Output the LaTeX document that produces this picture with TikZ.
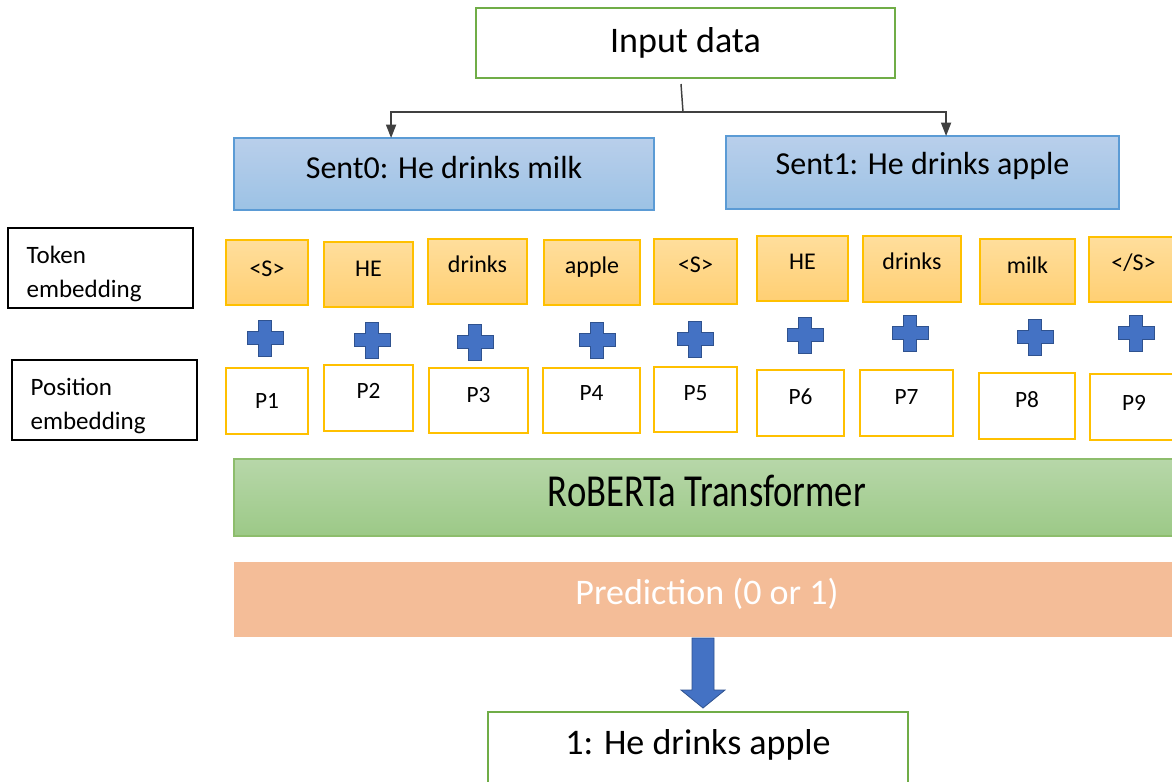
\documentclass[tikz,border=0pt]{standalone}
\usepackage{fontspec}
\setmainfont{Carlito}
\usetikzlibrary{arrows.meta,calc}
\definecolor{grn}{HTML}{70AD47}
\definecolor{bluebd}{HTML}{5B9BD5}
\definecolor{bluetop}{HTML}{B9CFEB}
\definecolor{bluebot}{HTML}{9CC2E5}
\definecolor{orbd}{HTML}{FFC000}
\definecolor{ortop}{HTML}{FFDE9C}
\definecolor{orbot}{HTML}{FFCF73}
\definecolor{gtop}{HTML}{B7D7A9}
\definecolor{gbot}{HTML}{9CC987}
\definecolor{peach}{HTML}{F4BD98}
\definecolor{plusfill}{HTML}{4472C4}
\definecolor{plusbd}{HTML}{2F528F}
\definecolor{conn}{HTML}{404040}
\newcommand\boxat[7]{\node[#6, minimum width={(#4-#2)*0.75pt}, minimum height={(#5-#3)*0.75pt}] (#1) at ({(#2+#4)/2},{(#3+#5)/2}) {#7};}
\newcommand\rs[2]{\raisebox{#1pt}[\height][\depth]{#2}}
\newcommand\plusat[2]{\fill[plusfill, draw=plusbd, line width=0.6pt] (#1-6.5,#2-18) -- (#1+6.5,#2-18) -- (#1+6.5,#2-6.5) -- (#1+18,#2-6.5) -- (#1+18,#2+6.5) -- (#1+6.5,#2+6.5) -- (#1+6.5,#2+18) -- (#1-6.5,#2+18) -- (#1-6.5,#2+6.5) -- (#1-18,#2+6.5) -- (#1-18,#2-6.5) -- (#1-6.5,#2-6.5) -- cycle;}
\tikzset{
  base/.style={inner sep=0pt, outer sep=0pt},
  greenbox/.style={base, draw=grn, line width=1.9pt, fill=white, font=\fontsize{27}{32}\selectfont},
  sentbox/.style={base, draw=bluebd, line width=1.1pt, top color=bluetop, bottom color=bluebot, font=\fontsize{24}{28}\selectfont},
  labelbox/.style={base, draw=black, line width=1pt, align=left, inner xsep=14pt, text width={(#1)*0.75pt-28pt}, font=\fontsize{18.75}{25.5}\selectfont},
  tokbox/.style={base, draw=orbd, line width=1.1pt, top color=ortop, bottom color=orbot, font=\fontsize{18}{22}\selectfont},
  posbox/.style={base, draw=orbd, line width=1.9pt, fill=white, font=\fontsize{17.5}{21}\selectfont},
  robox/.style={base, draw=grn!80, line width=0.8pt, top color=gtop, bottom color=gbot, font=\fontsize{27.5}{32}\selectfont},
  predbox/.style={base, fill=peach, text=white, font=\fontsize{27}{32}\selectfont},
  arr/.style={draw=conn, line width=1.1pt, -{Triangle[width=7.5pt,length=10pt]}},
}
\begin{document}
\begin{tikzpicture}[x=0.75pt,y=-0.75pt]
\useasboundingbox (0,0) rectangle (1172,782);
\fill[white] (0,0) rectangle (1172,782);
% top
\boxat{in}{476}{8}{895}{78}{greenbox}{Input data}
\boxat{s0}{234}{138}{654}{210}{sentbox}{\rs{5}{Sent0: He drinks milk}}
\boxat{s1}{726}{136}{1119}{209}{sentbox}{\rs{5}{Sent1: He drinks apple}}
\coordinate (top) at (681,84);
\coordinate (split) at (683,112);
\draw[draw=conn, line width=1.1pt] (top) -- (split);
\draw[arr] (split) -| ($(s0.north west)!0.374!(s0.north east)$);
\draw[arr] (split) -| ($(s1.north west)!0.56!(s1.north east)$);
% labels
\boxat{tl}{8}{228}{193}{308}{labelbox=185}{\rs{-4}{\begin{tabular}{@{}l@{}}Token\\embedding\end{tabular}}}
\boxat{pl}{12}{360}{197}{440}{labelbox=185}{\rs{-4}{\begin{tabular}{@{}l@{}}Position\\embedding\end{tabular}}}
% tokens
\boxat{t1}{226}{240}{308}{305}{tokbox}{\rs{3}{<S>}}
\boxat{t2}{324}{242}{413}{307}{tokbox}{\rs{4.5}{HE}}
\boxat{t3}{428}{239}{527}{304}{tokbox}{\rs{5.5}{drinks}}
\boxat{t4}{544}{240}{640}{305}{tokbox}{\rs{4}{apple}}
\boxat{t5}{654}{239}{737}{304}{tokbox}{\rs{5}{<S>}}
\boxat{t6}{757}{236}{848}{301}{tokbox}{\rs{5}{HE}}
\boxat{t7}{863}{236}{961}{302}{tokbox}{\rs{6}{drinks}}
\boxat{t8}{980}{239}{1075}{304}{tokbox}{\rs{5}{milk}}
\boxat{t9}{1089}{237}{1178}{302}{tokbox}{\rs{5}{</S>}}
% plus signs
\plusat{265}{338}
\plusat{372}{340}
\plusat{475}{342}
\plusat{597}{340}
\plusat{695}{339}
\plusat{805}{335}
\plusat{910}{333}
\plusat{1035}{337}
\plusat{1136}{333}
% positions
\boxat{p1}{226}{368}{308}{434}{posbox}{P1}
\boxat{p2}{324}{365}{413}{431}{posbox}{\rs{5}{P2}}
\boxat{p3}{429}{368}{528}{433}{posbox}{\rs{4}{P3}}
\boxat{p4}{543}{368}{640}{433}{posbox}{\rs{5.5}{P4}}
\boxat{p5}{654}{367}{737}{432}{posbox}{\rs{5}{P5}}
\boxat{p6}{757}{370}{844}{436}{posbox}{\rs{4.5}{P6}}
\boxat{p7}{860}{370}{953}{436}{posbox}{\rs{4.5}{P7}}
\boxat{p8}{979}{373}{1075}{439}{posbox}{\rs{4.5}{P8}}
\boxat{p9}{1090}{374}{1178}{440}{posbox}{\rs{3}{P9}}
% transformer + prediction
\boxat{ro}{234}{459}{1180}{536}{robox}{\rs{5}{\scalebox{1}[1.25]{RoBERTa Transformer}}}
\boxat{pr}{234}{562}{1180}{637}{predbox}{\rs{4}{Prediction (0 or 1)}}
% big arrow
\fill[plusfill, draw=plusbd, line width=0.6pt] (692,638) -- (714,638) -- (714,690) -- (725,690) -- (703,708) -- (681,690) -- (692,690) -- cycle;
% output
\boxat{out}{488}{712}{908}{800}{greenbox}{\rs{8}{1: He drinks apple}}
\end{tikzpicture}
\end{document}
